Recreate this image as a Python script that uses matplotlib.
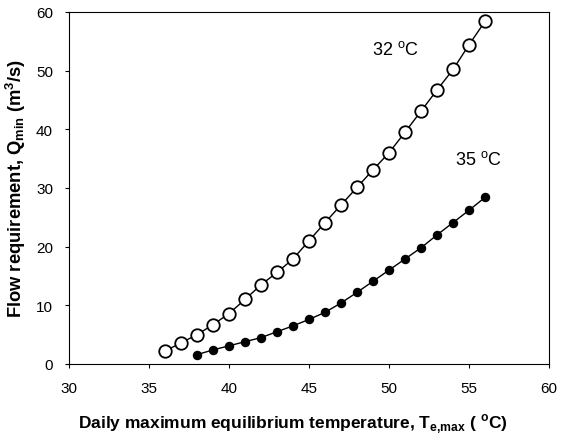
import matplotlib
matplotlib.use("Agg")
from matplotlib import pyplot as plt  # noqa

plt.rcParams['font.family'] = ['Liberation Sans', 'DejaVu Sans']
plt.rcParams['mathtext.fontset'] = 'custom'
plt.rcParams['mathtext.rm'] = 'Liberation Sans'
plt.rcParams['mathtext.bf'] = 'Liberation Sans:bold'

# 32 degC criterion (open circles)
temp_32 = [36, 37, 38, 39, 40, 41, 42, 43, 44, 45, 46, 47, 48, 49, 50, 51, 52, 53, 54, 55, 56]
flow_32 = [2.2, 3.6, 5.0, 6.7, 8.6, 11.0, 13.5, 15.6, 17.9, 21.0, 24.1, 27.1, 30.1, 33.1, 36.0,
           39.5, 43.1, 46.7, 50.2, 54.4, 58.4]

# 35 degC criterion (filled circles)
temp_35 = [38, 39, 40, 41, 42, 43, 44, 45, 46, 47, 48, 49, 50, 51, 52, 53, 54, 55, 56]
flow_35 = [1.6, 2.4, 3.1, 3.8, 4.5, 5.5, 6.5, 7.6, 8.8, 10.4, 12.2, 14.1, 16.0, 17.9, 19.8,
           22.0, 24.1, 26.2, 28.4]

fig = plt.figure(figsize=(5.63, 4.35), dpi=100)
ax = fig.add_axes([69 / 563, 1 - 365 / 435, 480 / 563, 352 / 435])

ax.plot(temp_32, flow_32, color='black', lw=1, marker='o', ms=9, mfc='white', mec='black', mew=1.3)
ax.plot(temp_35, flow_35, color='black', lw=1, marker='o', ms=5.8, mfc='black', mec='black')

ax.set_xlim(30, 60)
ax.set_ylim(0, 60)
ax.set_xticks(range(30, 61, 5))
ax.set_yticks(range(0, 61, 10))
ax.tick_params(direction='out', length=3, width=0.8, labelsize=11)
ax.tick_params(axis='x', pad=9.5)
ax.tick_params(axis='y', pad=8.5)

ax.annotate('32 $^\\mathrm{o}$C', xy=(395 / 563, 1 - 50 / 435), xycoords='figure fraction',
            fontsize=13, ha='center', va='center')
ax.annotate('35 $^\\mathrm{o}$C', xy=(478 / 563, 1 - 160 / 435), xycoords='figure fraction',
            fontsize=13, ha='center', va='center')

fig.text(293 / 563, 1 - 424 / 435,
         'Daily maximum equilibrium temperature, T$_{\\mathbf{e{,}max}}$ ( $^\\mathbf{o}$C)',
         fontsize=12.5, fontweight='bold', ha='center', va='center')
fig.text(16 / 563, 1 - 188 / 435,
         'Flow requirement, Q$_{\\mathbf{min}}$ (m$^\\mathbf{3}$/s)',
         fontsize=13.2, fontweight='bold', ha='center', va='center', rotation=90)

fig.savefig('out.png', dpi=100)
